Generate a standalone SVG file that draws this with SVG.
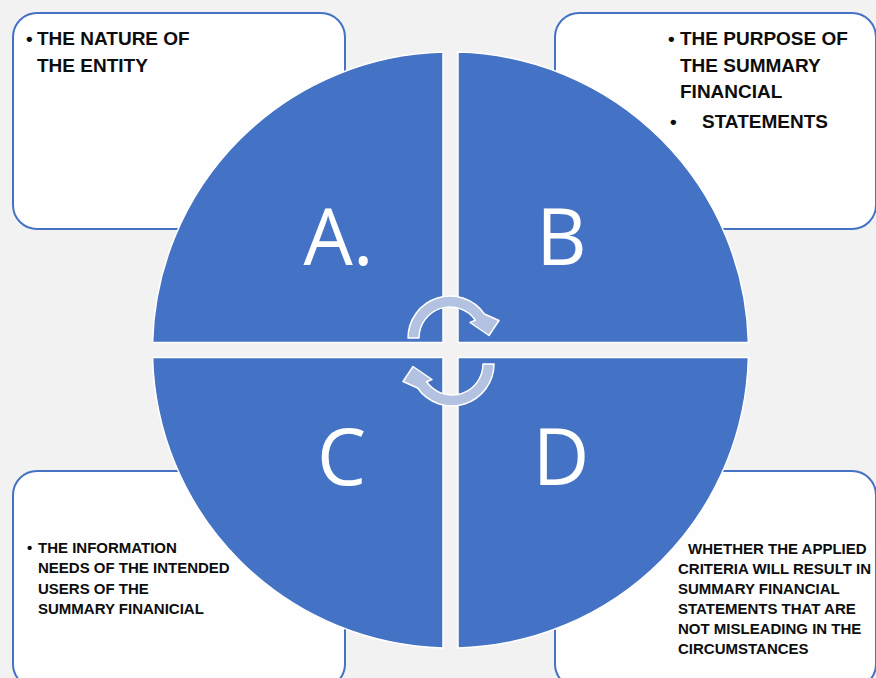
<svg xmlns="http://www.w3.org/2000/svg" width="876" height="678" viewBox="0 0 876 678">
  <style>
    .box { fill: #fefefe; stroke: #4472c4; stroke-width: 2; }
    .quad { fill: #4472c4; stroke: #ffffff; stroke-width: 1.5; }
    .letter { font-family: "Open Sans", "Liberation Sans", sans-serif; font-weight: 400; font-size: 78px; fill: #ffffff; text-anchor: middle; }
    .big { font-family: "Liberation Sans", Arial, sans-serif; font-weight: bold; font-size: 19px; fill: #0d0d0d; }
    .small { font-family: "Liberation Sans", Arial, sans-serif; font-weight: bold; font-size: 15px; fill: #0d0d0d; }
    .cycle { fill: #b4c2e2; stroke: #ffffff; stroke-width: 1.5; stroke-linejoin: round; }
  </style>
  <defs>
    <!-- curved arrow running clockwise over the top of the hub -->
    <path id="arc-arrow" d="M 408 338 A 42 42 0 0 1 484.4 314 L 499 320.5 L 489 335.5 L 470 322.5 L 475.4 320.2 A 31 31 0 0 0 419 338 Z"/>
  </defs>

  <rect x="0" y="0" width="876" height="678" fill="#f2f2f2"/>

  <!-- text boxes in the corners -->
  <g id="box-a">
    <rect class="box" x="13" y="13" width="332" height="216" rx="24"/>
    <text class="big"><tspan x="26" y="45">•</tspan><tspan x="37" y="45">THE NATURE OF</tspan><tspan x="37" y="72">THE ENTITY</tspan></text>
  </g>
  <g id="box-b">
    <rect class="box" x="555" y="13" width="321" height="216" rx="24"/>
    <text class="big"><tspan x="668" y="45">•</tspan><tspan x="680" y="45">THE PURPOSE OF</tspan><tspan x="680" y="72">THE SUMMARY</tspan><tspan x="680" y="98">FINANCIAL</tspan><tspan x="670" y="128">•</tspan><tspan x="702" y="128">STATEMENTS</tspan></text>
  </g>
  <g id="box-c">
    <rect class="box" x="13" y="471" width="332" height="217" rx="24"/>
    <text class="small"><tspan x="27" y="553">•</tspan><tspan x="38" y="553">THE INFORMATION</tspan><tspan x="38" y="573">NEEDS OF THE INTENDED</tspan><tspan x="38" y="593.5">USERS OF THE</tspan><tspan x="38" y="614">SUMMARY FINANICIAL</tspan></text>
  </g>
  <g id="box-d">
    <rect class="box" x="555" y="471" width="321" height="217" rx="24"/>
    <text class="small"><tspan x="688" y="553.5">WHETHER THE APPLIED</tspan><tspan x="678" y="573.5">CRITERIA WILL RESULT IN</tspan><tspan x="678" y="593.5">SUMMARY FINANCIAL</tspan><tspan x="678" y="614">STATEMENTS THAT ARE</tspan><tspan x="678" y="634">NOT MISLEADING IN THE</tspan><tspan x="678" y="654">CIRCUMSTANCES</tspan></text>
  </g>

  <!-- four quarters of the central disc -->
  <g id="quadrant-a">
    <path class="quad" d="M 443 342.5 V 52.1 A 298 298 0 0 0 152.6 342.5 Z"/>
    <text class="letter" x="338.5" y="265">A.</text>
  </g>
  <g id="quadrant-b">
    <path class="quad" d="M 458 342.5 H 748.4 A 298 298 0 0 0 458 52.1 Z"/>
    <text class="letter" x="561.5" y="265">B</text>
  </g>
  <g id="quadrant-c">
    <path class="quad" d="M 443 357.5 H 152.6 A 298 298 0 0 0 443 647.9 Z"/>
    <text class="letter" x="341.5" y="485">C</text>
  </g>
  <g id="quadrant-d">
    <path class="quad" d="M 458 357.5 V 647.9 A 298 298 0 0 0 748.4 357.5 Z"/>
    <text class="letter" x="561" y="485">D</text>
  </g>

  <!-- cycle arrows at the hub -->
  <g id="connectors">
    <use href="#arc-arrow" class="cycle"/>
    <use href="#arc-arrow" class="cycle" transform="rotate(180 451 351)"/>
  </g>
</svg>
